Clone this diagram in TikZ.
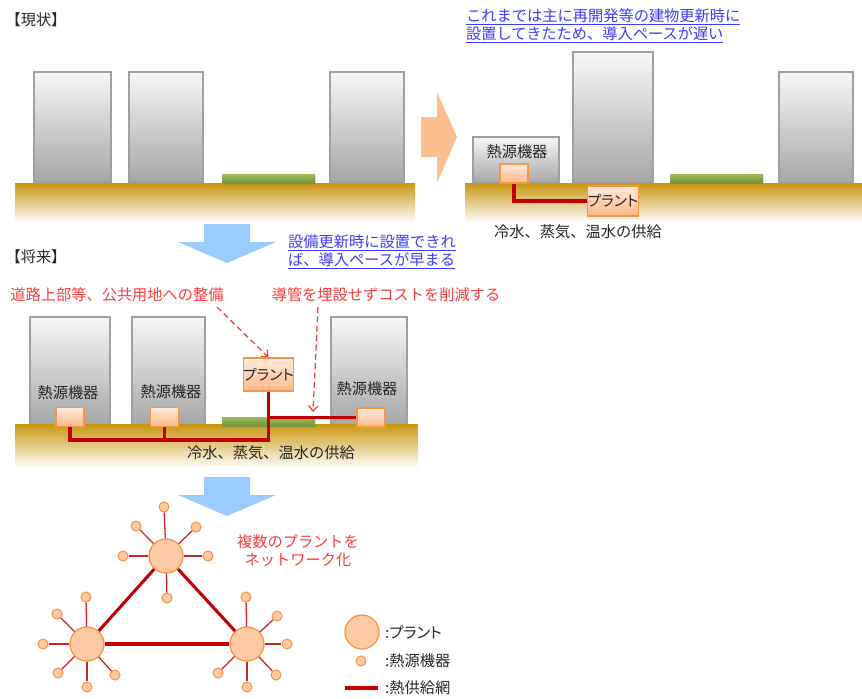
\documentclass[tikz,border=0pt]{standalone}
\usepackage{fontspec}
\setmainfont{Noto Sans CJK JP}
\newfontfamily\kanafont{Noto Sans CJK JP}[RawFeature=+palt]
\usepackage{tikz}
\usetikzlibrary{arrows.meta,shadows}
\pgfdeclarelayer{front}
\pgfsetlayers{main,front}
\newlength\px
\setlength\px{0.3mm}
\definecolor{ink}{HTML}{262626}
\definecolor{soil}{HTML}{C9960F}
\definecolor{bldgline}{HTML}{A0A0A0}
\definecolor{bldgtop}{HTML}{F7F7F7}
\definecolor{bldgbot}{HTML}{A6A6A6}
\definecolor{lawntop}{HTML}{9BBB59}
\definecolor{lawnbot}{HTML}{77933C}
\definecolor{unitline}{HTML}{F79646}
\definecolor{unittop}{HTML}{FFEADC}
\definecolor{unitbot}{HTML}{FCB888}
\definecolor{plantfill}{HTML}{FCCAA4}
\definecolor{pipered}{HTML}{C00000}
\definecolor{notered}{HTML}{FF3B3B}
\definecolor{noteblue}{HTML}{3C3CFF}
\definecolor{arrowblue}{HTML}{9ACCFF}
\definecolor{arrowpeach}{HTML}{FAC090}
\tikzstyle{label}=[inner sep=0pt,text=ink,font=\fontsize{13}{15.5}\selectfont]
\tikzstyle{bluenote}=[label,text=noteblue,align=left]
\tikzstyle{rednote}=[label,text=notered,align=center]
\tikzstyle{building}=[draw=bldgline,line width=1pt,top color=bldgtop,bottom color=bldgbot,inner sep=0pt,
  drop shadow={opacity=0.18,shadow xshift=1pt,shadow yshift=-1pt}]
\tikzstyle{ground}=[top color=soil,bottom color=white,inner sep=0pt]
\tikzstyle{lawn}=[top color=lawntop,bottom color=lawnbot,inner sep=0pt,
  drop shadow={opacity=0.2,shadow xshift=1pt,shadow yshift=-1pt}]
\tikzstyle{unit}=[draw=unitline,line width=1.1pt,top color=unittop,bottom color=unitbot,inner sep=0pt]
\tikzstyle{plantbox}=[unit,text=ink,font=\kanafont\fontsize{12.5}{14}\selectfont]
\tikzstyle{pipe}=[draw=pipered,line width=3.2pt]
\tikzstyle{hint}=[draw=notered,line width=1.1pt,dash pattern=on 5pt off 3pt,-{Straight Barb[length=4.5pt,width=8pt]}]
\tikzstyle{plant}=[circle,draw=unitline,line width=1.1pt,fill=plantfill,minimum size=34\px,inner sep=0pt]
\tikzstyle{unitdot}=[circle,draw=unitline,line width=0.9pt,fill=plantfill,minimum size=10\px,inner sep=0pt]
\tikzstyle{trunk}=[draw=pipered,line width=2.6pt]
\tikzstyle{feeder}=[draw=pipered!85,line width=1.1pt]

\begin{document}
\begin{tikzpicture}[x=0.3mm,y=-0.3mm]
    \useasboundingbox (0,0) rectangle (862,698);
    % Headings and notes
    \node[label] (now) at (36,20) {【現状】};
    \node[label] (future) at (36,257) {【将来】};
    \node[bluenote,anchor=west] (noteA) at (466,26)
        {\underline{これまでは主に再開発等の建物更新時に}\\\underline{設置してきたため、導入ペースが遅い}};
    \node[bluenote,anchor=west] (noteB) at (288,252)
        {\underline{設備更新時に設置できれ}\\\underline{ば、導入ペースが早まる}};
    \node[rednote] (roadtxt) at (117,295) {道路上部等、公共用地への整備};
    \node[rednote] (costtxt) at (386,295) {導管を埋設せずコストを削減する};

    % Block arrows between the panels
    \fill[arrowpeach] (421,117) -- (437,117) -- (437,92) -- (457,137) -- (437,183) -- (437,157) -- (421,157) -- cycle;
    \foreach \y in {224,477}
        \fill[arrowblue] (204,\y) -- (250,\y) -- (250,\y+18) -- (276,\y+18) -- (227,\y+39) -- (178,\y+18) -- (204,\y+18) -- cycle;

    % First we draw the buildings
    \foreach \pos/\w/\h/\name in {{(72.5,127)/77/110/b1}, {(166,127)/74/110/b2}, {(367,127)/74/110/b3},
        {(516,160)/86/46/hA}, {(613,117.5)/80/131/tall}, {(816,127.5)/74/111/bR},
        {(70,371)/80/108/c1}, {(168.5,371)/73/108/c2}, {(369,371)/76/108/c3}}
        \node[building,minimum width=\w\px,minimum height=\h\px] (\name) at \pos {};
    % Ground and green strips
    \foreach \pos/\w/\h/\name in {{(215,202.5)/400/39/gr1}, {(663.5,202.5)/397/39/gr2}, {(216.5,446)/403/44/gr3}}
        \node[ground,minimum width=\w\px,minimum height=\h\px] (\name) at \pos {};
    \foreach \pos/\name in {{(268.5,179)/g1}, {(716.5,178.5)/g2}, {(268.5,421.5)/g3}}
        \node[lawn,minimum width=93\px,minimum height=9\px] (\name) at \pos {};

    % Texts on the buildings and the ground
    \foreach \pos/\name in {{(517,152)/tA}, {(68,393)/t1}, {(171,392)/t2}, {(367,389)/t3}}
        \node[label] (\name) at \pos {熱源機器};
    \node[label] (supA) at (578,232) {冷水、蒸気、温水の供給};
    \node[label] (supB) at (271,453) {冷水、蒸気、温水の供給};

    % Plants and heat source units sit in front of the pipes
    \begin{pgfonlayer}{front}
    \node[plantbox,minimum width=46\px,minimum height=30\px] (plA) at (613,201) {プラント};
    \node[plantbox,minimum width=47\px,minimum height=33\px] (plB) at (268.5,374.5) {プラント};
    \foreach \pos/\name in {{(514,173.5)/uA}, {(70,417)/u1}, {(164.5,417)/u2}, {(371,417.5)/u3}}
        \node[unit,minimum width=28\px,minimum height=19\px] (\name) at \pos {};
    \end{pgfonlayer}
    % Pipes
    \path[pipe] (uA.south) |- (plA.west);
    \path[pipe] (u1.south) -- ++(0,13) -| (plB.south);
    \path[pipe] (u2.south) -- ++(0,13);
    \path[pipe] (plB.south |- u3.west) -- (u3.west);

    % Dashed pointers
    \coordinate (roadtip) at (217,307);
    \coordinate (costtip) at (318,307);
    \coordinate (costend) at (313,412);
    \path[hint] (roadtip) -- (plB.north);
    \path[hint] (costtip) -- (costend);

    % Network of plants
    \node[rednote] (nettxt) at (298,551) {複数のプラントを\\ネットワーク化};
    \foreach \pos/\name in {{(166,556)/p1}, {(87,644)/p2}, {(247,644)/p3}}
        \node[plant] (\name) at \pos {};
    \foreach \source/\dest in {p1/p2, p2/p3, p3/p1}
        \path[trunk] (\source) -- (\dest);
    \foreach \pos/\name/\hub in {{(164,507)/s1/p1}, {(136,526)/s2/p1}, {(196,527)/s3/p1}, {(123,556)/s4/p1},
        {(208,556)/s5/p1}, {(167,598)/s6/p1}, {(86,597)/s7/p2}, {(57,614)/s8/p2}, {(43,644)/s9/p2},
        {(58,673)/s10/p2}, {(87,687)/s11/p2}, {(115,675)/s12/p2}, {(246,597)/s13/p3}, {(277,616)/s14/p3},
        {(287,644)/s15/p3}, {(276,675)/s16/p3}, {(247,687)/s17/p3}, {(218,673)/s18/p3}}
    {
        \node[unitdot] (\name) at \pos {};
        \path[feeder] (\hub) -- (\name);
    }

    % Key
    \node[plant] (keyplant) at (362,632) {};
    \node[unitdot] (keyunit) at (361,661) {};
    \coordinate (keyA) at (345,688);
    \coordinate (keyB) at (378,688);
    \path[trunk] (keyA) -- (keyB);
    \node[label,anchor=west] (keyt1) at (385,632) {\kanafont :プラント};
    \node[label,anchor=west] (keyt2) at (385,661) {:熱源機器};
    \node[label,anchor=west] (keyt3) at (385,688) {:熱供給網};
\end{tikzpicture}
\end{document}
